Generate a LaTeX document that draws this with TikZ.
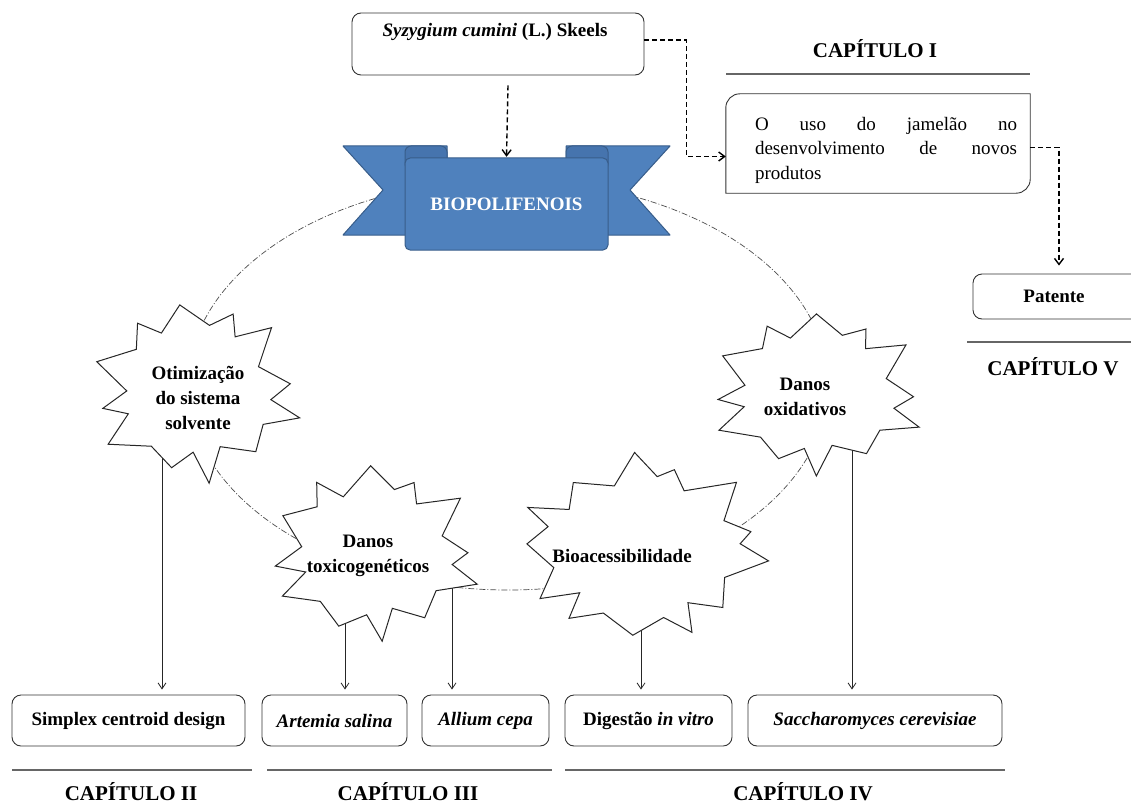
\documentclass[tikz,border=0pt]{standalone}
\usepackage{fontspec}
\setmainfont{Liberation Serif}
\usetikzlibrary{arrows.meta,calc}
\definecolor{bannerblue}{HTML}{4F81BD}
\definecolor{bannerdark}{HTML}{385D8A}
\definecolor{bannershade}{HTML}{4674AE}
\newcommand\burstat[7]{% center, rx, ry, last index (2n-1), phase, seed, inner ratio
  \begin{scope}[shift={#1}]
  \filldraw[burstline] plot[samples at={0,...,#4}, variable=\t]
    ({#2*brad(\t,#6,#7)*cos(bang(\t,#5,#4,#6))},{#3*brad(\t,#6,#7)*sin(bang(\t,#5,#4,#6))}) -- cycle;
  \end{scope}}
\begin{document}
\begin{tikzpicture}[x=1pt,y=-1pt,
  declare function={brad(\t,\s,\i)=(mod(\t,2)==0 ? (1+0.08*sin(\t*97+\s)) : (\i+0.05*sin(\t*53+\s)));
                    bang(\t,\p,\m,\s)=\p+\t*360/(\m+1)+5*sin(\t*71+\s);},
  txt/.style={font=\fontsize{19}{24}\selectfont\bfseries},
  box/.style={draw=black!80, line width=0.9pt, rounded corners=9pt, fill=white, inner sep=0pt, txt},
  arr/.style={-{Straight Barb[length=6pt,width=8pt]}, line width=0.8pt, black!85},
  darr/.style={-{Straight Barb[length=6pt,width=9pt]}, dash pattern=on 5pt off 3pt, line width=1.4pt, black},
  captitle/.style={font=\fontsize{21}{24}\selectfont\bfseries},
  rulestyle/.style={line width=1.2pt, black!60},
  burstline/.style={draw=black!85, line width=1pt, fill=white, line join=miter},
  bursttext/.style={align=center, font=\fontsize{19}{25}\selectfont\bfseries, inner sep=0pt},
  ring/.style={dash pattern=on 6pt off 2pt on 1pt off 2pt, line width=0.7pt, black!70},
  bannerpart/.style={fill=bannerblue, draw=bannerdark, line width=1pt, line join=round}]
\useasboundingbox (0,0) rectangle (1131,805);

% ring
\draw[ring] (508,385) ellipse [x radius=320, y radius=205];

% bottom boxes
\node[box, minimum width=233pt, minimum height=51pt] (simplex) at (128.5,720.5) {Simplex centroid design};
\node[box, minimum width=145pt, minimum height=51pt] (artemia) at (334.5,720.5) {\textit{Artemia salina}};
\node[box, minimum width=127pt, minimum height=51pt] (allium) at (485.5,720.5) {\textit{Allium cepa}};
\node[box, minimum width=167pt, minimum height=51pt] (digest) at (648.5,720.5) {Digestão \textit{in vitro}};
\node[box, minimum width=254pt, minimum height=51pt] (sacch) at (875,720.5) {\textit{Saccharomyces cerevisiae}};

% star centres
\coordinate (c1) at (196,391);
\coordinate (c2) at (374,553);
\coordinate (c3) at (642,548);
\coordinate (c4) at (817,393);

% connectors (under the stars)
\draw[arr] ([xshift=33.5pt]simplex.north |- c1) -- ([xshift=33.5pt,yshift=5pt]simplex.north);
\draw[arr] ([xshift=10.5pt]artemia.north |- c2) -- ([xshift=10.5pt,yshift=5pt]artemia.north);
\draw[arr] ([xshift=-33.5pt]allium.north |- c2) -- ([xshift=-33.5pt,yshift=5pt]allium.north);
\draw[arr] ([xshift=-7.5pt]digest.north |- c3) -- ([xshift=-7.5pt,yshift=5pt]digest.north);
\draw[arr] ([xshift=-23pt]sacch.north |- c4) -- ([xshift=-23pt,yshift=5pt]sacch.north);

% stars
\burstat{(c1)}{101}{86}{23}{-100}{10}{0.73}
\burstat{(c2)}{102}{83}{23}{-95}{40}{0.74}
\burstat{(c3)}{120}{89}{25}{-98}{70}{0.77}
\burstat{(c4)}{104}{77}{23}{-92}{20}{0.74}
\node[bursttext] (s1) at (198,398) {Otimização\\do sistema\\solvente};
\node[bursttext] (s2) at (368,556) {Danos\\toxicogenéticos};
\node[bursttext] (s3) at (622,556) {Bioacessibilidade};
\node[bursttext] (s4) at (805,397) {Danos\\oxidativos};

% banner
\filldraw[bannerpart] (343,146) -- (447,146) -- (447,235) -- (343,235) -- (383,190) -- cycle;
\filldraw[bannerpart] (670,146) -- (566,146) -- (566,235) -- (670,235) -- (630,190) -- cycle;
\filldraw[fill=bannershade, draw=bannerdark, line width=1pt, rounded corners=6pt] (405,146) rectangle (447,170);
\filldraw[fill=bannershade, draw=bannerdark, line width=1pt, rounded corners=6pt] (566,146) rectangle (608,170);
\filldraw[bannerpart, rounded corners=5pt] (405,158) rectangle (608,250);
\node[font=\fontsize{19}{24}\selectfont\bfseries, text=white, minimum width=203pt, minimum height=92pt] (banner) at (506.5,204) {BIOPOLIFENOIS};

% top box
\node[box, minimum width=292pt, minimum height=62pt] (sy) at (498,44) {};
\node[txt, inner sep=0pt] (sytext) at (495,32) {\textit{Syzygium cumini} (L.) Skeels};

% chapter I box
\node[minimum width=304pt, minimum height=99pt, inner sep=0pt] (box2) at (878,143.5) {};
\draw[black!80, line width=0.9pt] (box2.south west) -- (box2.west) [rounded corners=14pt] -- (box2.north west) -- (box2.north) [sharp corners] -- (box2.north east) -- (box2.east) [rounded corners=14pt] -- (box2.south east) -- (box2.south) [sharp corners] -- cycle;
\node[text width=262pt, align=justify, font=\fontsize{19}{24.5}\selectfont, inner sep=0pt] (box2t) at (886,150) {O uso do jamelão no\linebreak desenvolvimento de novos\linebreak produtos};

% patente box
\begin{scope}
\clip (0,0) rectangle (1131,805);
\node[box, minimum width=170pt, minimum height=45pt] (pat) at (1058,296.5) {};
\end{scope}
\node[txt] (pattext) at (1054,296.5) {Patente};

% dashed connectors
\draw[darr] ([xshift=10pt,yshift=-10pt]sy.south) -- ([yshift=1pt]banner.north);
\draw[darr] ([yshift=4pt]sy.east) -- ++(42,0) |- ([yshift=-13pt]box2.west);
\draw[darr] ([yshift=-4pt]box2.east) -| ([xshift=1pt,yshift=8pt]pat.north);

% chapter titles and rules
\node[captitle] (cap1) at (875,49) {CAPÍTULO I};
\draw[rulestyle] (726,74) -- (1030,74);
\draw[rulestyle] (967,342) -- (1131,342);
\node[captitle] (cap5) at (1053,367) {CAPÍTULO V};
\draw[rulestyle] (12,770) -- (252,770);
\draw[rulestyle] (267,770) -- (552,770);
\draw[rulestyle] (565,770) -- (1005,770);
\node[captitle] (cap2) at (131,792) {CAPÍTULO II};
\node[captitle] (cap3) at (408,792) {CAPÍTULO III};
\node[captitle] (cap4) at (803,792) {CAPÍTULO IV};
\end{tikzpicture}
\end{document}
